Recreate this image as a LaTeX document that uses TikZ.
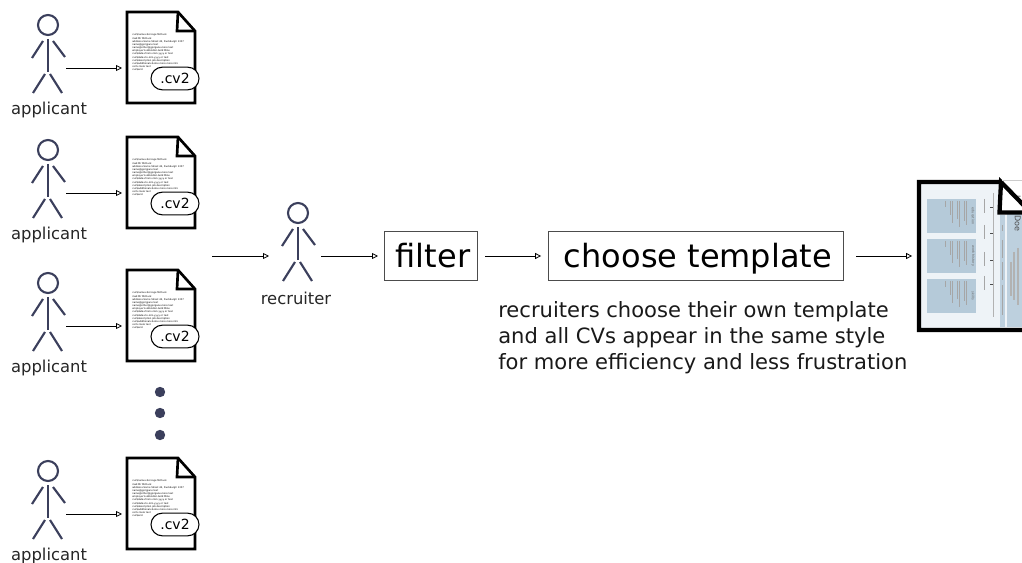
\documentclass[tikz,border=0pt]{standalone}
\usepackage{fontspec}
\setmainfont{DejaVu Sans}
\usetikzlibrary{arrows.meta}
\definecolor{actor}{HTML}{3B3F5C}
\definecolor{panel}{HTML}{B5CAD9}
\definecolor{paper}{HTML}{EEF3F7}
\tikzset{
  x=0.75pt,y=-0.75pt,
  limb/.style={draw=actor,line width=1.6pt},
  flow/.style={draw=black,line width=0.6pt,-{Triangle[open,length=4.5pt,width=4.5pt]}},
  sheet/.style={draw=black,line width=2pt,fill=white,line join=miter},
  pill/.style={draw=black,line width=0.8pt,fill=white,rounded corners=8.5pt,minimum width=36pt,minimum height=17pt,inner sep=0pt,font=\fontsize{10.5}{12}\selectfont},
  label/.style={inner sep=0pt,font=\fontsize{12.3}{14}\selectfont,text=black!85},
  stepbox/.style={draw=black!70,line width=0.7pt,inner sep=0pt},
  tinytext/.style={inner sep=0pt,anchor=west,text=black,font=\fontsize{1.8}{2.2}\selectfont},
  headtext/.style={inner sep=0pt,rotate=-90,text=black!60,font=\fontsize{2.5}{3}\selectfont},
  greek/.style={draw=black!35,line width=0.3pt},
}
\newcommand{\actorfig}[2]{%
  \begin{scope}[shift={(#1,#2)}]
    \draw[limb] (0,-13) circle[radius=10];
    \draw[limb] (0,1)--(0,34);
    \draw[limb] (-5,3)--(-16,20);
    \draw[limb] (5,3)--(17,19);
    \draw[limb] (-3,36)--(-15,55);
    \draw[limb] (2,36)--(14,55);
  \end{scope}}
\newcommand{\cvrow}[2]{%
  \actorfig{48}{38+#2}
  \node[label] (app#1) at (49,109.5+#2) {applicant};
  \path[sheet] (127,12+#2)--(178,12+#2)--(195,31+#2)--(195,103+#2)--(127,103+#2)--cycle;
  \draw[black,line width=2pt] (178,12+#2)--(177,31+#2)--(195,31+#2);
  \node[tinytext] (l1#1) at (132,35+#2) {cv2\$name=Scrooge McDuck};
  \node[tinytext] (l2#1) at (132,38.2+#2) {mail:Mr McDuck};
  \node[tinytext] (l3#1) at (132,41.4+#2) {address=Some Street 42, Duckburgh 1337};
  \node[tinytext] (l4#1) at (132,44.6+#2) {name@gjorgjane text};
  \node[tinytext] (l5#1) at (132,47.8+#2) {name@other@gjorgane.more text};
  \node[tinytext] (l6#1) at (132,51+#2) {employer1=Wendler-Gold Mine};
  \node[tinytext] (l7#1) at (132,54.2+#2) {cv2\$date=from=mm yyyy or text};
  \node[tinytext] (l8#1) at (132,57.4+#2) {cv2\$date=to-mm yyyy or text};
  \node[tinytext] (l9#1) at (132,60.6+#2) {cv2\$description job description};
  \node[tinytext] (l10#1) at (132,63.8+#2) {cv2\$additional=Some more more info};
  \node[tinytext] (l11#1) at (132,67+#2) {cert=more text};
  \node[tinytext] (l12#1) at (132,70.2+#2) {cv2\$end};
  \node[pill] (pill#1) at (175,78.5+#2) {.cv2};
  \coordinate (src#1) at (66,68+#2);
  \coordinate (dst#1) at (122,68+#2);
  \draw[flow] (src#1)--(dst#1);
}
\begin{document}
\begin{tikzpicture}
\useasboundingbox (0,0) rectangle (1022,563);
\cvrow{a}{0}
\cvrow{b}{125}
\cvrow{c}{258}
\cvrow{d}{446}
\foreach \yy in {392,413,435}{\fill[actor] (160,\yy) circle[radius=5.2];}
\actorfig{298}{226}
\node[label] (rec) at (296,298) {recruiter};
\coordinate (inA) at (212,256);
\coordinate (inB) at (269,256);
\coordinate (outA) at (321,256);
\coordinate (outB) at (378,256);
\draw[flow] (inA)--(inB);
\draw[flow] (outA)--(outB);
\node[stepbox,minimum width=70pt,minimum height=37pt,text height=20pt,text depth=2pt,font=\fontsize{24}{28}\selectfont] (filter) at (431,256) {\hspace*{3pt}filter};
\node[stepbox,minimum width=221.5pt,minimum height=37pt,text height=20pt,text depth=2pt,font=\fontsize{24}{28}\selectfont] (choose) at (696,256) {\hspace*{3pt}choose template};
\draw[flow] (filter.east)++(7,0) coordinate (fa) -- ++(56,0) coordinate (fb);
\draw[flow] (choose.east)++(12,0) coordinate (ca) -- ++(56,0) coordinate (cb);
\node[anchor=north west,inner sep=0pt,align=left,font=\fontsize{15.8}{19.5}\selectfont,text=black!90] (note) at (498,301) {recruiters choose their own template\\and all CVs appear in the same style\\for more efficiency and less frustration};
% output document
\begin{scope}
\clip (900,170) rectangle (1022,350);
\path[fill=paper] (919,182)--(1000,182)--(1040,225)--(1040,330)--(919,330)--cycle;
\fill[panel] (927,199) rectangle (976,233);
\fill[panel] (927,239) rectangle (976,273);
\fill[panel] (927,279) rectangle (976,313);
\fill[panel!85!paper] (1000,215) rectangle (1005,327);
\fill[panel!85!paper] (1007,213) rectangle (1040,327);
\draw[black!30,line width=0.3pt] (993,193)--(993,317);
\foreach \yy in {207,233,260,284}{\draw[black!70,line width=0.4pt] (990,\yy)--(993,\yy);\draw[greek] (984,\yy-8)--++(0,14);}
\node[headtext] (h1) at (973,216) {education};
\node[headtext] (h2) at (973,256) {work history};
\node[headtext] (h3) at (973,296) {skills};
\foreach \yy in {201,241,281}{
  \foreach \xx/\ll in {966/24,964/20,959/26,957/18,952/22,950/14,945/6}{
    \draw[greek] (\xx,\yy)--++(0,\ll);
  }
}
\foreach \yy/\ll in {225/6,240/18,262/18,285/30}{\draw[greek] (1002.5,\yy)--++(0,\ll);}
\node[inner sep=0pt,rotate=-90,anchor=east,text=black!70,font=\fontsize{6}{7}\selectfont] (name) at (1017,232) {John Doe};
\foreach \xx/\ya/\yb in {1018/248/305,1014/252/300,1011/262/296}{\draw[black!30,line width=0.8pt] (\xx,\ya)--(\xx,\yb);}
\draw[black,line width=3.2pt,line join=miter] (1040,330)--(919,330)--(919,182)--(1000,182)--(1040,222);
\draw[black,line width=3.2pt,fill=white,line join=miter] (1001,182)--(999.5,212.5)--(1040,212.5)--(1040,222)--cycle;
\end{scope}
\draw[black!20,line width=0.4pt] (1002,180)--(1022,180);
\end{tikzpicture}
\end{document}
